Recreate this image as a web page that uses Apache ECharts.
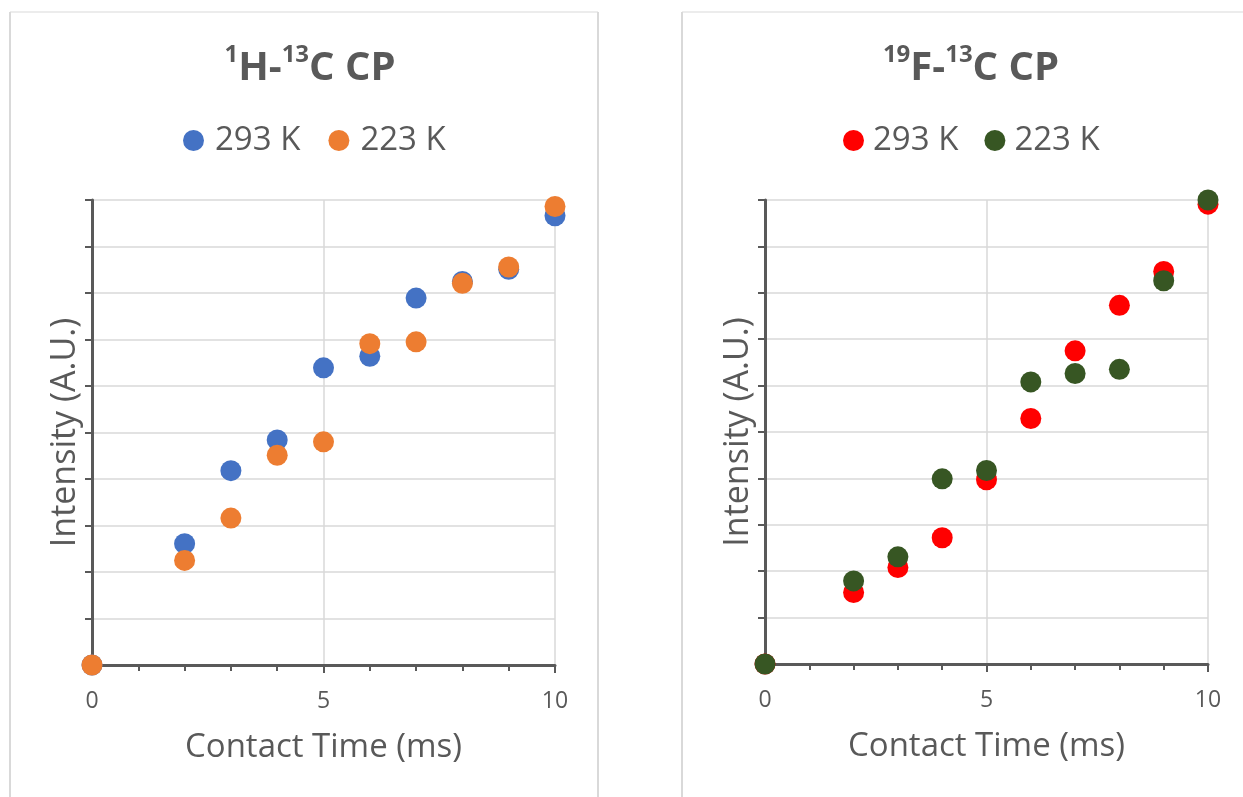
<!DOCTYPE html>
<html>
<head>
<meta charset="utf-8">
<script src="https://cdn.jsdelivr.net/npm/echarts@6/dist/echarts.min.js"></script>
<style>
html,body{margin:0;padding:0;background:#fff;}
#c{width:1243px;height:797px;}
</style>
</head>
<body>
<div id="c"></div>
<script>
// Data (arbitrary intensity units; y axis 0..10 grid)
const times = [0, 2, 3, 4, 5, 6, 7, 8, 9, 10];
const h293 = [0, 2.61, 4.18, 4.84, 6.39, 6.64, 7.89, 8.25, 8.51, 9.66];
const h223 = [0, 2.25, 3.16, 4.51, 4.80, 6.91, 6.95, 8.21, 8.56, 9.86];
const f293 = [0, 1.54, 2.08, 2.72, 3.97, 5.29, 6.75, 7.73, 8.46, 9.91];
const f223 = [0, 1.79, 2.31, 3.99, 4.17, 6.08, 6.26, 6.35, 8.26, 10.0];
const xTicks = [0, 5, 10];
const legendLabels = { H293: '293 K', H223: '223 K', F293: '293 K', F223: '223 K' };

const FONT = 'Open Sans';
const TXT = '#595959';
const GRIDC = '#D9D9D9';

function pairs(ys) { return times.map((t, i) => [t, ys[i]]); }

function xAxisCfg(gi) {
  return {
    gridIndex: gi, type: 'value', min: 0, max: 10, interval: 5,
    name: 'Contact Time (ms)', nameLocation: 'middle', nameGap: 66,
    nameTextStyle: { fontFamily: FONT, fontSize: 33, color: TXT },
    axisLine: { show: true, lineStyle: { color: TXT, width: 3 } },
    axisTick: { show: true, length: 8, lineStyle: { color: TXT, width: 2 } },
    minorTick: { show: true, splitNumber: 5, length: 6, lineStyle: { color: TXT, width: 2 } },
    axisLabel: { fontFamily: FONT, fontSize: 23, color: TXT, margin: 25,
      formatter: v => xTicks.includes(v) ? String(v) : '' },
    splitLine: { show: true, lineStyle: { color: GRIDC, width: 1.5 } }
  };
}
function yAxisCfg(gi, gap) {
  return {
    gridIndex: gi, type: 'value', min: 0, max: 10, interval: 1,
    name: 'Intensity (A.U.)', nameLocation: 'middle', nameGap: gap,
    nameTextStyle: { fontFamily: FONT, fontSize: 34, color: TXT },
    axisLine: { show: true, lineStyle: { color: TXT, width: 3 } },
    axisTick: { show: true, length: 7, lineStyle: { color: TXT, width: 2 } },
    axisLabel: { show: false },
    splitLine: { show: true, lineStyle: { color: GRIDC, width: 1.5 } }
  };
}
function scatter(name, ys, color, gi) {
  return {
    name: name, type: 'scatter', xAxisIndex: gi, yAxisIndex: gi,
    data: pairs(ys), symbol: 'circle', symbolSize: 21,
    itemStyle: { color: color, opacity: 1 },
    emphasis: { disabled: true }
  };
}
function titleCfg(sup1, a, sup2, b, cx) {
  return {
    left: cx, top: 38, textAlign: 'center',
    text: '{s|' + sup1 + '}{b|' + a + '}{s|' + sup2 + '}{b|' + b + '}',
    textStyle: {
      fontFamily: FONT, fontWeight: 'bold', fontSize: 40, color: TXT,
      rich: {
        b: { fontFamily: FONT, fontWeight: 'bold', fontSize: 40, color: TXT, lineHeight: 46, verticalAlign: 'bottom' },
        s: { fontFamily: FONT, fontWeight: 'bold', fontSize: 24, color: TXT, lineHeight: 24, verticalAlign: 'top' }
      }
    }
  };
}

const chart = echarts.init(document.getElementById('c'), null, { renderer: 'canvas' });
chart.setOption({
  animation: false,
  backgroundColor: '#fff',
  title: [
    titleCfg('1', 'H-', '13', 'C CP', 305),
    titleCfg('19', 'F-', '13', 'C CP', 966)
  ],
  legend: [
    { data: ['H293', 'H223'], left: 183, top: 124, padding: 0, icon: 'circle',
      itemWidth: 21, itemHeight: 21, itemGap: 28, selectedMode: false,
      formatter: n => legendLabels[n],
      textStyle: { fontFamily: FONT, fontSize: 33, color: TXT, padding: [0, 0, 0, 6] } },
    { data: ['F293', 'F223'], left: 843, top: 124, padding: 0, icon: 'circle',
      itemWidth: 21, itemHeight: 21, itemGap: 26, selectedMode: false,
      formatter: n => legendLabels[n],
      textStyle: { fontFamily: FONT, fontSize: 33, color: TXT, padding: [0, 0, 0, 4] } }
  ],
  grid: [
    { left: 92, top: 200, width: 463, height: 465, containLabel: false },
    { left: 765, top: 200, width: 443, height: 464, containLabel: false }
  ],
  xAxis: [xAxisCfg(0), xAxisCfg(1)],
  yAxis: [yAxisCfg(0, 10), yAxisCfg(1, 10)],
  series: [
    scatter('H293', h293, '#4472C4', 0),
    scatter('H223', h223, '#ED7D31', 0),
    scatter('F293', f293, '#FF0000', 1),
    scatter('F223', f223, '#375623', 1)
  ],
  graphic: [
    { type: 'line', silent: true, shape: { x1: 10, y1: 12, x2: 598, y2: 12 }, style: { stroke: GRIDC, lineWidth: 1.2 } },
    { type: 'line', silent: true, shape: { x1: 10, y1: 12, x2: 10, y2: 797 }, style: { stroke: GRIDC, lineWidth: 2 } },
    { type: 'line', silent: true, shape: { x1: 598, y1: 12, x2: 598, y2: 797 }, style: { stroke: GRIDC, lineWidth: 2 } },
    { type: 'line', silent: true, shape: { x1: 682, y1: 12, x2: 1243, y2: 12 }, style: { stroke: GRIDC, lineWidth: 1.2 } },
    { type: 'line', silent: true, shape: { x1: 682, y1: 12, x2: 682, y2: 797 }, style: { stroke: GRIDC, lineWidth: 2 } }
  ]
});
</script>
</body>
</html>
